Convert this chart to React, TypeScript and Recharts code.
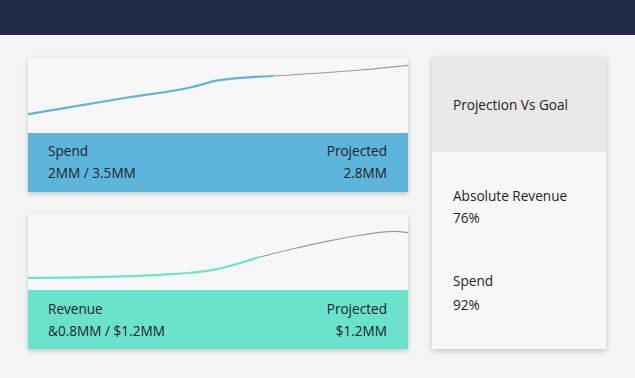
import React from "react";
import { LineChart, Line, XAxis, YAxis } from "recharts";

// Spend sparkline (x = position along period, 0..100; y = index 0..100)
const spendX = [0, 25.8, 43.3, 50, 64.5, 87.4, 100];
const spendActual = [25, 47, 61.3, 70.2, 76, null, null];
const spendProjected = [null, null, null, null, 76, 84, 90.3];

// Revenue sparkline
const revenueX = [0, 17, 34.6, 43.3, 49.5, 56.7, 61, 69.8, 78.6, 87.4, 96.1, 100];
const revenueActual = [16, 17, 20, 23, 27.2, 36.8, 43.4, null, null, null, null, null];
const revenueProjected = [null, null, null, null, null, null, 43.4, 54.3, 64, 72, 77.2, 75.4];

// Card texts
const spendLabels = ["Spend", "2MM / 3.5MM", "Projected", "2.8MM"];
const revenueLabels = ["Revenue", "&0.8MM / $1.2MM", "Projected", "$1.2MM"];
const goalTitle = "Projection Vs Goal";
const goalNames = ["Absolute Revenue", "Spend"];
const goalValues = ["76%", "92%"];

const build = (xs: number[], a: (number | null)[], p: (number | null)[]) =>
  xs.map((x, i) => ({ x, actual: a[i], projected: p[i] }));

const FONT = "'Open Sans', sans-serif";
const FS = 13.6;
const TEXT = "#1f2326";

function Spark({ data, color, h }: { data: any[]; color: string; h: number }) {
  return (
    <LineChart width={380} height={h} data={data} margin={{ top: 0, right: 0, bottom: 0, left: 0 }}>
      <XAxis type="number" dataKey="x" domain={[0, 100]} hide />
      <YAxis type="number" domain={[0, 100]} hide />
      <Line type="monotone" dataKey="projected" stroke="#9a9a9a" strokeWidth={1.2} dot={false} isAnimationActive={false} connectNulls={false} />
      <Line type="monotone" dataKey="actual" stroke={color} strokeWidth={2.2} dot={false} isAnimationActive={false} connectNulls={false} />
    </LineChart>
  );
}

function Card({ top, chartH, bandH, color, data, labels, textTop }: any) {
  const txt = (t: string, y: number, right: boolean) => (
    <div
      style={{
        position: "absolute",
        top: y,
        left: right ? undefined : 20,
        right: right ? 21 : undefined,
        lineHeight: "21px",
        fontSize: FS,
        color: TEXT,
        whiteSpace: "nowrap",
      }}
    >
      {t}
    </div>
  );
  return (
    <div
      style={{
        position: "absolute",
        left: 28,
        top,
        width: 380,
        height: chartH + bandH,
        background: "#f7f7f7",
        boxShadow: "0 2px 5px rgba(0,0,0,0.2)",
      }}
    >
      <Spark data={data} color={color} h={chartH} />
      <div style={{ position: "absolute", left: 0, top: chartH, width: 380, height: bandH, background: color }}>
        {txt(labels[0], textTop, false)}
        {txt(labels[1], textTop + 21.3, false)}
        {txt(labels[2], textTop, true)}
        {txt(labels[3], textTop + 21.3, true)}
      </div>
    </div>
  );
}

export default function App() {
  const t = (s: string, y: number) => (
    <div style={{ position: "absolute", left: 21, top: y, lineHeight: "21px", fontSize: FS, color: TEXT, whiteSpace: "nowrap" }}>{s}</div>
  );
  return (
    <div
      style={{
        position: "absolute",
        left: 0,
        top: 0,
        width: 635,
        height: 378,
        background: "#f5f5f5",
        fontFamily: FONT,
        overflow: "hidden",
      }}
    >
      <div style={{ position: "absolute", left: 0, top: 0, width: 635, height: 35, background: "#222b48" }} />
      <Card top={58} chartH={75} bandH={59} color="#5eb5dc" data={build(spendX, spendActual, spendProjected)} labels={spendLabels} textTop={7.3} />
      <Card top={214} chartH={76} bandH={59} color="#6ae2cc" data={build(revenueX, revenueActual, revenueProjected)} labels={revenueLabels} textTop={8.3} />
      <div
        style={{
          position: "absolute",
          left: 432,
          top: 57,
          width: 174,
          height: 292,
          background: "#f7f7f7",
          boxShadow: "0 2px 6px rgba(0,0,0,0.2)",
        }}
      >
        <div style={{ position: "absolute", left: 0, top: 0, width: 174, height: 95, background: "#e8e8e8" }} />
        {t(goalTitle, 37.3)}
        {t(goalNames[0], 128)}
        {t(goalValues[0], 150)}
        {t(goalNames[1], 213.3)}
        {t(goalValues[1], 236.6)}
      </div>
    </div>
  );
}
